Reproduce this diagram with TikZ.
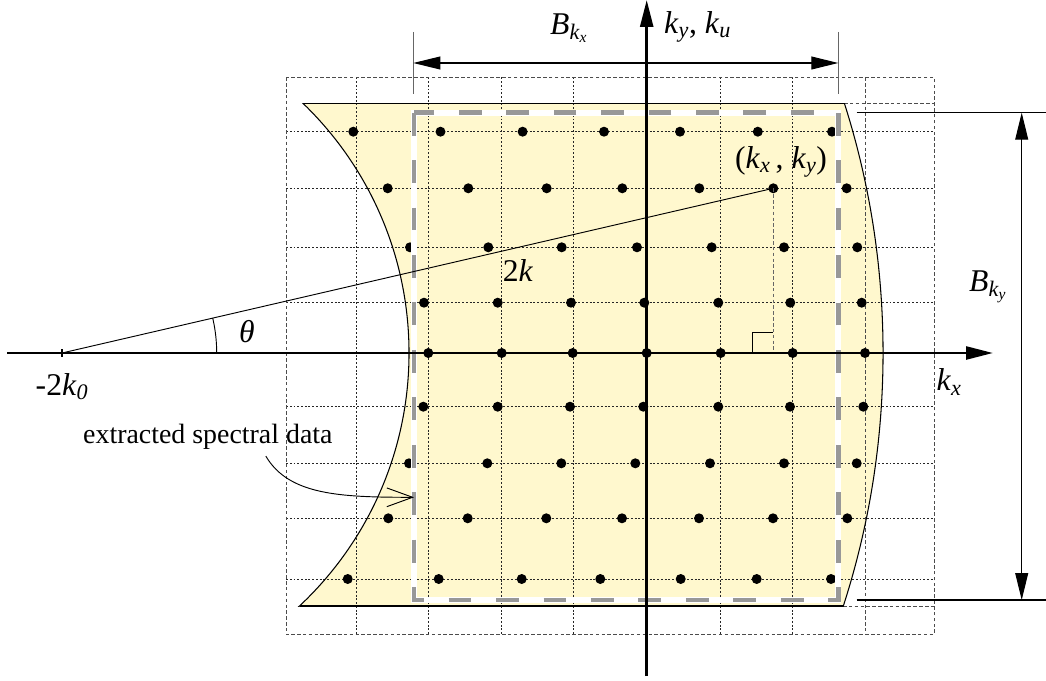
\documentclass[tikz,border=0pt]{standalone}
\usepackage{fontspec}
\setmainfont{Liberation Serif}
\usetikzlibrary{arrows.meta,positioning}
\definecolor{sheet}{RGB}{255,248,206}
\definecolor{cutgray}{RGB}{152,152,152}
\newcommand{\kv}[1]{\textit{k}\textsubscript{\textit{#1}}}

\begin{document}
\begin{tikzpicture}[
    x=0.03cm, y=-0.03cm,
    gridline/.style={black!85, line width=0.6pt, dash pattern=on 1.6pt off 1.6pt},
    outerline/.style={black!70, line width=0.6pt, dash pattern=on 3pt off 2pt},
    edge/.style={line width=0.9pt},
    axis/.style={line width=2.4pt, -{Triangle[length=23pt, width=11pt]}},
    dim/.style={line width=0.9pt, {Triangle[length=23pt, width=11pt]}-{Triangle[length=23pt, width=11pt]}},
    lbl/.style={inner sep=0pt, font=\fontsize{27}{30}\selectfont},
    note/.style={inner sep=0pt, font=\fontsize{23.8}{28}\selectfont},
    pointer/.style={line width=0.8pt, -{Straight Barb[length=22pt, width=16pt]}}
]
    \useasboundingbox (0,0) rectangle (1046,681);
    \coordinate (k0) at (62,353);

    % spectral support between the two arcs
    \begin{scope}
        \clip (150,103.3) rectangle (1046,606);
        \fill[sheet, even odd rule] (k0) circle (24.63cm) (k0) circle (10.41cm);
    \end{scope}

    % sampling grid
    \foreach \gx in {356.7,428.3,501.7,573,646.7,720.7,792.7}
        \draw[gridline] (\gx,77.3) -- (\gx,634.5);
    \draw[outerline] (865,77.3) -- (865,634.5);
    \foreach \gy in {131.7,188.3,247.3,302.7,353,406.7,463.3,518.3,579}
        \draw[gridline] (286,\gy) -- (934,\gy);
    \draw[outerline] (844,103.3) -- (934,103.3);
    \draw[outerline] (843,606) -- (934,606);
    \draw[outerline] (286,77.3) rectangle (934,634.5);

    % outline of the support
    \begin{scope}
        \clip (150,103.3) rectangle (1046,606);
        \draw[edge] (k0) circle (24.63cm) (k0) circle (10.41cm);
    \end{scope}
    \draw[edge] (303,103.3) -- (844.1,103.3);
    \draw[edge] (299.5,606) -- (843,606);

    % samples
    \foreach \ry/\row in {
        131.7/{353.3,440.5,522.6,604,680,757.8,832},
        188.3/{387.7,468.3,546.7,622.3,699.3,773.3,846.7},
        247.3/{410,488.3,561.7,637,711.7,784,857.3},
        302.7/{424,497.7,571,644.3,718.3,790.3,861.7},
        353/{428.3,501.7,572.7,646.7,720.7,792.7,865},
        406.7/{423.3,497.7,570,643.3,718.3,790,863.3},
        463.3/{409,487.3,561.3,635.3,710,784,856.7},
        518.3/{388.3,467.7,546.3,622,699,773,847.3},
        579/{347.7,438.7,521.7,600.3,680.7,756.7,831}}
        \foreach \rx in \row
            \fill (\rx,\ry) circle (0.15cm);

    % extracted region
    \coordinate (ra) at (414,112.7);
    \coordinate (rb) at (838.3,600);
    \coordinate (tip) at (414,497.3);
    \draw[white, line width=5.2pt] (ra) rectangle (rb);
    \draw[cutgray, line width=4pt, dash pattern=on 19.5pt off 21pt] (ra) rectangle (rb);

    % wave vector
    \coordinate (pt) at (773.3,188.3);
    \coordinate (foot) at (773.3,353);
    \draw[line width=0.8pt] (k0) -- (pt);
    \draw[black!60, line width=0.8pt, dash pattern=on 3pt off 2pt] (pt) -- (foot);
    \draw[line width=0.8pt] ([xshift=-0.63cm]foot) |- ([yshift=0.63cm]foot);
    \draw[line width=0.8pt] (216.7,353) arc[start angle=0, end angle=13.04, radius=4.65cm];

    % axes
    \coordinate (xstart) at (7,353);
    \coordinate (xend) at (993,353);
    \coordinate (ystart) at (646.7,676);
    \coordinate (yend) at (646.7,0);
    \draw[axis] (xstart) -- (xend);
    \draw[axis] (ystart) -- (yend);
    \draw[edge] ([yshift=3pt]k0) -- ([yshift=-3pt]k0);

    % bandwidths
    \coordinate (bl) at (413.3,63);
    \coordinate (br) at (838.3,63);
    \coordinate (bt) at (1021.7,112.7);
    \coordinate (bb) at (1021.7,600);
    \draw[black!60, line width=0.9pt] (413.3,32) -- (413.3,94) (838.3,32) -- (838.3,94);
    \draw[edge] (856.7,112.7) -- (1046,112.7) (856.7,600) -- (1046,600);
    \draw[dim] (bl) -- (br);
    \draw[dim] (bt) -- (bb);

    % labels
    \node[lbl] (bkx) at (569,28) {\textit{B}\textsubscript{\kv{x}}};
    \node[lbl, anchor=west] (kyku) at (664,27) {\kv{y}, \kv{u}};
    \node[lbl] (bky) at (988,287) {\textit{B}\textsubscript{\kv{y}}};
    \node[lbl] (kxlabel) at (949,382) {\kv{x}};
    \node[lbl] (theta) at (247,332) {\textit{θ}};
    \node[lbl] (twok) at (518,271) {2\textit{k}};
    \node[lbl] (ptlabel) at (781,162) {(\kv{x}\,, \kv{y})};
    \node[lbl, below=0.6cm of k0] (k0label) {-2\kv{0}};
    \node[note, anchor=base west] (extracted) at (83,443) {extracted spectral data};

    \draw[pointer] ([xshift=1.74cm,yshift=-0.21cm]extracted.south) .. controls +(0.69cm,-1.17cm) and +(-2.22cm,0) .. (tip);
\end{tikzpicture}
\end{document}
